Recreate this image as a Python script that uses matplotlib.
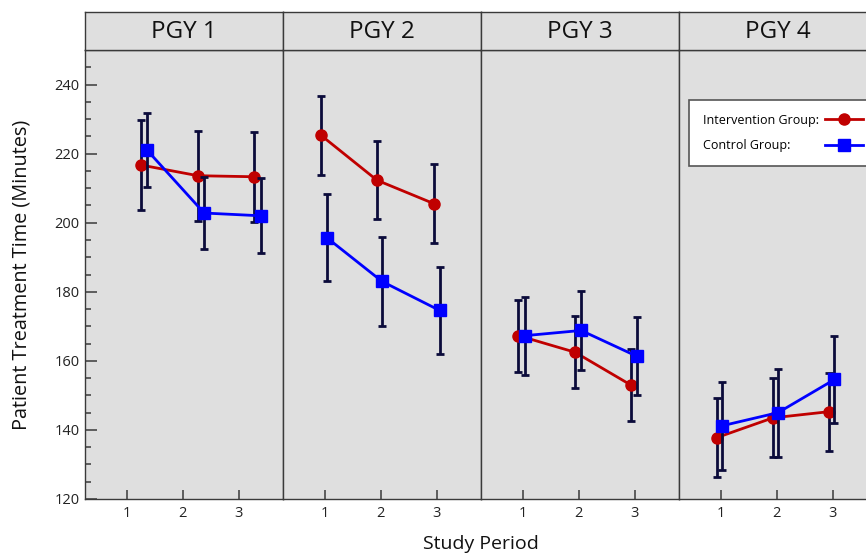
import numpy as np
import matplotlib.pyplot as plt
from matplotlib.ticker import MultipleLocator

plt.rcParams['font.family'] = ['Open Sans', 'DejaVu Sans']

# 数据：四个年级面板，每组三个研究阶段（均值 ± 误差）
panel_labels = ['PGY 1', 'PGY 2', 'PGY 3', 'PGY 4']
periods = [1, 2, 3]

interv_x = [[1.25, 2.27, 3.28], [0.93, 1.93, 2.95], [0.92, 1.93, 2.94], [0.93, 1.93, 2.94]]
ctrl_x = [[1.36, 2.38, 3.39], [1.03, 2.02, 3.05], [1.04, 2.04, 3.04], [1.02, 2.02, 3.03]]

interv_mean = [[216.7, 213.6, 213.3], [225.3, 212.3, 205.5], [167.3, 162.5, 152.9], [137.8, 143.5, 145.3]]
interv_err = [[13.0, 13.0, 13.0], [11.4, 11.3, 11.4], [10.4, 10.4, 10.4], [11.4, 11.4, 11.3]]
ctrl_mean = [[221.0, 202.8, 202.0], [195.7, 183.0, 174.6], [167.3, 168.8, 161.3], [141.2, 145.0, 154.6]]
ctrl_err = [[10.7, 10.4, 10.8], [12.7, 12.8, 12.7], [11.3, 11.4, 11.3], [12.7, 12.7, 12.7]]

W, H = 866, 554
fig = plt.figure(figsize=(W / 100, H / 100), dpi=100)

bg = '#dfdfdf'
edge = '#3a3a3a'
bar_color = '#0b0b3b'
red = '#c00000'
blue = '#0000ff'

left_px, panel_w = 85, 198
top_px, strip_top, bottom_px = 50, 12, 499

axes = []
for i, label in enumerate(panel_labels):
    x0 = (left_px + i * panel_w) / W
    ax = fig.add_axes([x0, 1 - bottom_px / H, panel_w / W, (bottom_px - top_px) / H])
    ax.set_facecolor(bg)
    for s in ax.spines.values():
        s.set_color(edge)
        s.set_linewidth(1.0)

    # 误差棒先画，再画折线和标记
    ax.errorbar(interv_x[i], interv_mean[i], yerr=interv_err[i], fmt='none',
                ecolor=bar_color, elinewidth=2.0, capsize=3.2, capthick=2.0, zorder=2)
    ax.plot(interv_x[i], interv_mean[i], color=red, lw=2.0, marker='o', ms=8,
            zorder=3, label='Intervention Group:')
    ax.errorbar(ctrl_x[i], ctrl_mean[i], yerr=ctrl_err[i], fmt='none',
                ecolor=bar_color, elinewidth=2.0, capsize=3.2, capthick=2.0, zorder=4)
    ax.plot(ctrl_x[i], ctrl_mean[i], color=blue, lw=2.0, marker='s', ms=8,
            zorder=5, label='Control Group:')

    ax.set_xlim(0.25, 3.79)
    ax.set_ylim(120, 250)
    ax.set_xticks(periods)
    ax.tick_params(axis='x', direction='in', length=6.5, width=1.1, color=edge,
                   labelsize=10.5, pad=5, labelcolor='#222222')
    if i == 0:
        ax.yaxis.set_major_locator(MultipleLocator(20))
        ax.yaxis.set_minor_locator(MultipleLocator(5))
        ax.tick_params(axis='y', which='major', direction='in', length=8.5, width=1.1,
                       color=edge, labelsize=10.5, pad=4, labelcolor='#222222')
        ax.tick_params(axis='y', which='minor', direction='in', length=4.5, width=1.1,
                       color=edge)
    else:
        ax.set_yticks([])
    axes.append(ax)

    # 顶部标签条
    sax = fig.add_axes([x0, 1 - top_px / H, panel_w / W, (top_px - strip_top) / H])
    sax.set_facecolor(bg)
    sax.set_xticks([])
    sax.set_yticks([])
    for s in sax.spines.values():
        s.set_color(edge)
        s.set_linewidth(1.0)
    sax.text(0.5, 0.47, label, ha='center', va='center', fontsize=17.5,
             color='#111111', transform=sax.transAxes)

leg = axes[-1].legend(loc='upper left', bbox_to_anchor=(689 / W, 1 - 100 / H),
                      bbox_transform=fig.transFigure, borderaxespad=0,
                      markerfirst=False, fontsize=9, handlelength=3.0,
                      handletextpad=0.5, labelspacing=1.0, borderpad=1.1,
                      fancybox=False, framealpha=1.0, facecolor='white',
                      edgecolor='#555555')
leg.get_frame().set_linewidth(1.2)

# 图例文字左对齐：给较短的行加大文字与图标的间距
fig.canvas.draw()
renderer = fig.canvas.get_renderer()
text_w = [t.get_window_extent(renderer).width for t in leg.get_texts()]
rows = leg._legend_handle_box.get_children()[0].get_children()
for row, w in zip(rows, text_w):
    row.sep += (max(text_w) - w) * 72 / fig.dpi

fig.text(22 / W, 1 - 275 / H, 'Patient Treatment Time (Minutes)', rotation=90,
         ha='center', va='center', fontsize=14.3, color='#111111')
fig.text(481 / W, 1 - 544 / H, 'Study Period', ha='center', va='center',
         fontsize=14, color='#111111')

fig.savefig('out.png', dpi=100)
